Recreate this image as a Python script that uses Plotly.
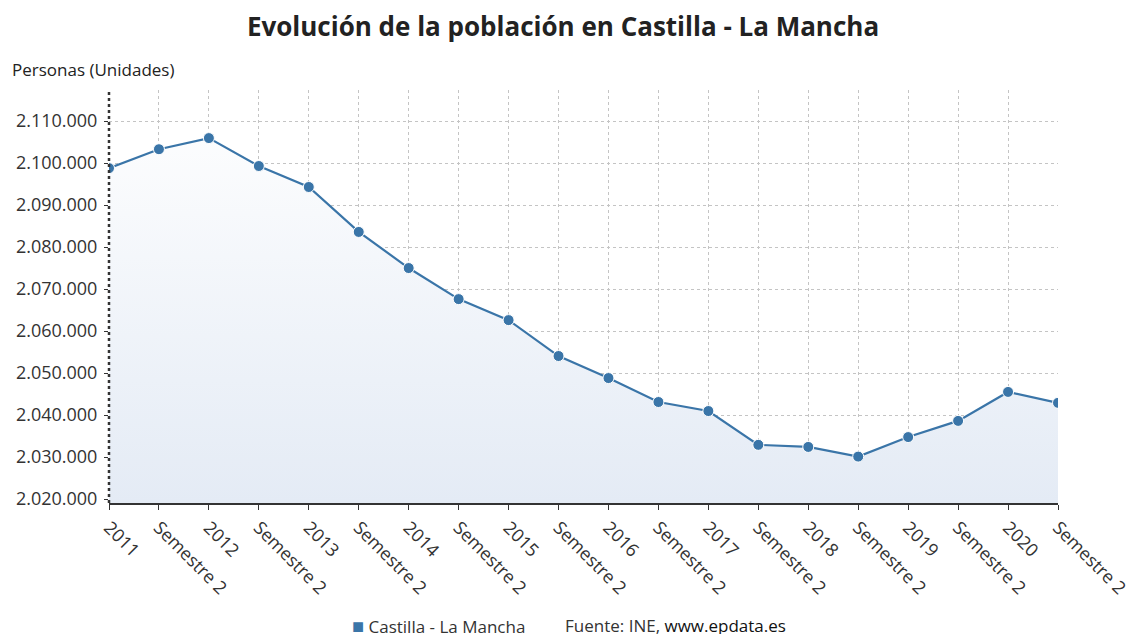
import plotly.graph_objects as go

categories = [
    "2011", "Semestre 2", "2012", "Semestre 2", "2013", "Semestre 2",
    "2014", "Semestre 2", "2015", "Semestre 2", "2016", "Semestre 2",
    "2017", "Semestre 2", "2018", "Semestre 2", "2019", "Semestre 2",
    "2020", "Semestre 2",
]
poblacion = [
    2098800, 2103300, 2105950, 2099300, 2094300, 2083600,
    2075000, 2067600, 2062600, 2054050, 2048800, 2043100,
    2040950, 2032900, 2032400, 2030100, 2034750, 2038600,
    2045500, 2042900,
]
y_ticks = list(range(2020000, 2110001, 10000))
y_labels = [f"{v:,}".replace(",", ".") for v in y_ticks]
y_range = [2019050, 2117400]

LINE_COLOR = "#3a75a8"
FONT = "Open Sans, Noto Sans, sans-serif"

x_idx = list(range(len(categories)))

fig = go.Figure()
fig.add_trace(
    go.Scatter(
        x=x_idx,
        y=poblacion,
        mode="lines+markers",
        line=dict(color=LINE_COLOR, width=2.2),
        marker=dict(size=11, color=LINE_COLOR, line=dict(color="white", width=1)),
        fill="tozeroy",
        fillgradient=dict(
            type="vertical",
            start=y_range[0],
            stop=y_range[1],
            colorscale=[[0, "rgb(228,235,245)"], [1, "rgb(255,255,255)"]],
        ),
        showlegend=False,
        hoverinfo="skip",
    )
)

fig.update_layout(
    width=1126,
    height=634,
    paper_bgcolor="white",
    plot_bgcolor="white",
    font=dict(family=FONT, color="#333333", size=17),
    margin=dict(l=109, r=68, t=90, b=131, autoexpand=False),
    title=dict(
        text="<b>Evolución de la población en Castilla - La Mancha</b>",
        x=0.5, xanchor="center", y=0.957, yanchor="middle",
        font=dict(size=26, color="#222222", family=FONT),
    ),
    xaxis=dict(
        tickmode="array",
        tickvals=x_idx,
        ticktext=categories,
        tickangle=45,
        range=[0, len(categories) - 1],
        automargin=False,
        ticklabeloverflow="allow",
        showgrid=True,
        gridcolor="#c4c4c4",
        griddash="dot",
        gridwidth=1,
        showline=True,
        linecolor="#333333",
        linewidth=2,
        ticks="outside",
        ticklen=5,
        tickcolor="#333333",
        tickfont=dict(size=18, color="#333333"),
        zeroline=False,
    ),
    yaxis=dict(
        tickmode="array",
        tickvals=y_ticks,
        ticktext=y_labels,
        range=y_range,
        automargin=False,
        ticklabeloverflow="allow",
        ticklabelstandoff=3,
        showgrid=True,
        gridcolor="#c4c4c4",
        griddash="dot",
        gridwidth=1,
        showline=False,
        ticks="outside",
        ticklen=4,
        tickcolor="#333333",
        tickfont=dict(size=18, color="#333333"),
        zeroline=False,
    ),
)

# dark dotted left axis line
fig.add_shape(
    type="line", xref="paper", yref="paper", x0=0, x1=0, y0=0, y1=1,
    line=dict(color="#333333", width=2.5, dash="dot"),
)

fig.add_annotation(
    text="Personas (Unidades)", xref="paper", yref="paper",
    x=-99 / 949, y=1 + (90 - 70) / 413, xanchor="left", yanchor="middle", showarrow=False,
    font=dict(size=17, color="#222222"),
)
fig.add_annotation(
    text=f"<span style='color:{LINE_COLOR};font-size:20px'>■</span> Castilla - La Mancha",
    xref="paper", yref="paper", x=(350 - 109) / 949, y=-(625 - 503) / 413,
    xanchor="left", yanchor="middle", showarrow=False,
    font=dict(size=17, color="#333333"),
)
fig.add_annotation(
    text="Fuente: INE, <span style='color:#111111'>www.epdata.es</span>",
    xref="paper", yref="paper", x=(563 - 109) / 949, y=-(625 - 503) / 413,
    xanchor="left", yanchor="middle", showarrow=False,
    font=dict(size=17, color="#333333"),
)

fig.write_html(
    "out.html",
    config={"displayModeBar": False},
    post_script="document.body.style.margin='0';document.body.style.overflow='hidden';",
)
